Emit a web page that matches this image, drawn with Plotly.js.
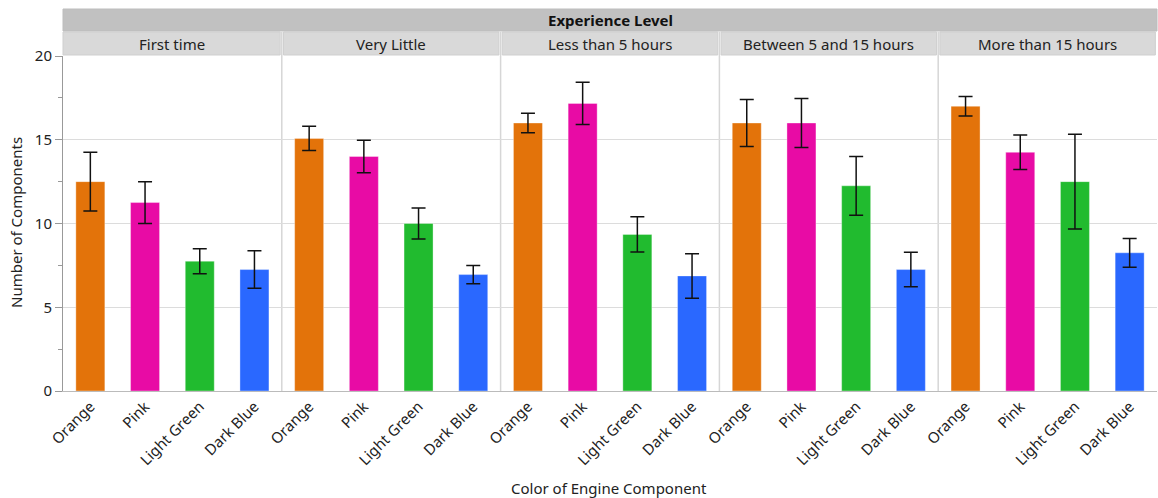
<!DOCTYPE html>
<html>
<head>
<meta charset="utf-8">
<script src="https://cdn.plot.ly/plotly-3.0.1.min.js"></script>
<style>
  html, body { margin: 0; padding: 0; background: #fff; }
  #chart { width: 1158px; height: 498px; }
</style>
</head>
<body>
<div id="chart"></div>
<script>
// Mean number of components by engine component colour, split by experience level
const levels = ["First time", "Very Little", "Less than 5 hours", "Between 5 and 15 hours", "More than 15 hours"];
const colors = ["Orange", "Pink", "Light Green", "Dark Blue"];

const firstTime   = [12.5, 11.25, 7.75, 7.25];
const veryLittle  = [15.08, 14.0, 10.0, 6.95];
const lessThan5   = [16.0, 17.17, 9.35, 6.87];
const between5_15 = [16.0, 16.0, 12.25, 7.25];
const moreThan15  = [17.0, 14.25, 12.5, 8.25];

const errFirstTime   = [1.75, 1.25, 0.75, 1.12];
const errVeryLittle  = [0.72, 0.97, 0.92, 0.54];
const errLessThan5   = [0.58, 1.26, 1.05, 1.33];
const errBetween5_15 = [1.41, 1.47, 1.75, 1.03];
const errMoreThan15  = [0.58, 1.03, 2.83, 0.86];

const values = [firstTime, veryLittle, lessThan5, between5_15, moreThan15];
const errors = [errFirstTime, errVeryLittle, errLessThan5, errBetween5_15, errMoreThan15];

const barColors = ["#E3730A", "#E80BA5", "#21BB2F", "#2A68FF"];
const FONT = "Noto Sans, Open Sans, sans-serif";
const FS = 15;

// pixel geometry of the plotting area
const W = 1158, H = 498;
const M = { l: 63, r: 1, t: 56, b: 107 };
const plotH = H - M.t - M.b;
const plotW = W - M.l - M.r;
const py = p => (H - M.b - p) / plotH;   // page pixel row -> paper y
const px = p => (p - M.l) / plotW;       // page pixel column -> paper x

const traces = [];
const layout = {
  width: W, height: H,
  margin: M,
  paper_bgcolor: "#fff",
  plot_bgcolor: "#fff",
  showlegend: false,
  bargap: 0.47,
  font: { family: FONT, size: FS, color: "#222" },
  yaxis: {
    range: [0, 20],
    tickvals: [0, 5, 10, 15, 20],
    ticks: "outside", ticklen: 7, tickcolor: "#999", tickwidth: 1,
    minor: { dtick: 2.5, ticks: "outside", ticklen: 4, tickcolor: "#999", showgrid: false },
    showline: true, linecolor: "#999", linewidth: 1,
    gridcolor: "#dcdcdc", gridwidth: 1,
    zeroline: false,
    tickfont: { family: FONT, size: FS, color: "#222" },
    fixedrange: true
  },
  shapes: [],
  annotations: []
};

levels.forEach((lvl, i) => {
  const ax = i === 0 ? "x" : "x" + (i + 1);
  const axKey = i === 0 ? "xaxis" : "xaxis" + (i + 1);
  traces.push({
    type: "bar",
    x: colors,
    y: values[i],
    xaxis: ax, yaxis: "y",
    marker: { color: barColors, line: { color: "rgba(255,255,255,0.35)", width: 1 } },
    error_y: { type: "data", array: errors[i], visible: true, color: "#111", thickness: 1.5, width: 7 },
    hoverinfo: "x+y"
  });
  layout[axKey] = {
    domain: [i / 5, (i + 1) / 5],
    anchor: "y",
    type: "category",
    categoryorder: "array",
    categoryarray: colors,
    range: [-0.5, 3.5],
    tickangle: -45,
    ticks: "",
    showgrid: false,
    showline: true, linecolor: "#bbb", linewidth: 1,
    tickfont: { family: FONT, size: FS, color: "#222" },
    fixedrange: true
  };

  // panel strip
  layout.shapes.push({
    type: "rect", xref: "paper", yref: "paper",
    x0: i / 5 + (i === 0 ? 0 : 0.0015), x1: (i + 1) / 5 - 0.0015,
    y0: py(55), y1: py(32),
    fillcolor: "#d9d9d9", line: { color: "#cfcfcf", width: 1 }, layer: "above"
  });
  layout.annotations.push({
    text: lvl, xref: "paper", yref: "paper",
    x: (i + 0.5) / 5, y: py(44), xanchor: "center", yanchor: "middle",
    showarrow: false, font: { family: FONT, size: FS, color: "#222" }
  });

  // vertical separator between panels
  if (i > 0) {
    layout.shapes.push({
      type: "line", xref: "paper", yref: "paper",
      x0: i / 5, x1: i / 5, y0: 0, y1: py(32),
      line: { color: "#d6d6d6", width: 1.5 }, layer: "below"
    });
  }
});

// overall grouping header
layout.shapes.push({
  type: "rect", xref: "paper", yref: "paper",
  x0: 0, x1: 1, y0: py(31), y1: py(9),
  fillcolor: "#c1c1c1", line: { color: "#bdbdbd", width: 1 }, layer: "above"
});
layout.annotations.push({
  text: "<b>Experience Level</b>", xref: "paper", yref: "paper",
  x: 0.5, y: py(20), xanchor: "center", yanchor: "middle",
  showarrow: false, font: { family: FONT, size: FS, color: "#111" }
});

// axis titles
layout.annotations.push({
  text: "Color of Engine Component", xref: "paper", yref: "paper",
  x: px(609), y: py(488), xanchor: "center", yanchor: "middle",
  showarrow: false, font: { family: FONT, size: FS, color: "#222" }
});
layout.annotations.push({
  text: "Number of Components", xref: "paper", yref: "paper",
  x: px(16), y: py(223), xanchor: "center", yanchor: "middle", textangle: -90,
  showarrow: false, font: { family: FONT, size: FS, color: "#222" }
});

Plotly.newPlot("chart", traces, layout, { displayModeBar: false, staticPlot: true });
</script>
</body>
</html>
